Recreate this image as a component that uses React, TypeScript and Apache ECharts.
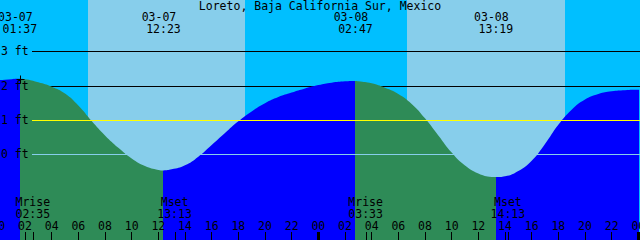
import { useEffect, useRef } from 'react';
import * as echarts from 'echarts';

const TITLE = 'Loreto, Baja California Sur, Mexico';

// Tide curve: hours since 03-07 00:00, height in feet
const TIDE_HOURS = [0, 1, 1.617, 2, 3, 4, 5, 6, 7, 8, 9, 10, 11, 12, 12.383, 13, 14, 15, 16, 17, 18, 19, 20, 21, 22, 23, 24, 25, 26, 26.783, 27, 28, 29, 30, 31, 32, 33, 34, 35, 36, 37, 37.317, 38, 39, 40, 41, 42, 43, 44, 45, 46, 47, 48, 48.125];
const TIDE_FEET = [2.16, 2.19, 2.2, 2.19, 2.1, 1.97, 1.77, 1.42, 0.97, 0.55, 0.19, -0.12, -0.34, -0.455, -0.47, -0.44, -0.32, -0.07, 0.27, 0.62, 0.96, 1.25, 1.49, 1.67, 1.8, 1.92, 2.02, 2.09, 2.13, 2.14, 2.13, 2.07, 1.94, 1.76, 1.47, 1.05, 0.55, 0.05, -0.33, -0.56, -0.66, -0.665, -0.64, -0.49, -0.19, 0.3, 0.86, 1.3, 1.6, 1.76, 1.84, 1.87, 1.88, 1.88];

// High / low tide events
const EXTREME_HOURS = [1.617, 12.383, 26.783, 37.317];
const EXTREME_KIND = ['high', 'low', 'high', 'low'];
const EXTREME_DATES = ['03-07', '03-07', '03-08', '03-08'];
const EXTREME_TIMES = ['01:37', '12:23', '02:47', '13:19'];

// Moon events
const MOON_HOURS = [2.583, 13.217, 27.55, 38.217];
const MOON_NAMES = ['Mrise', 'Mset', 'Mrise', 'Mset'];
const MOON_TIMES = ['02:35', '13:13', '03:33', '14:13'];

// Daylight (sunrise -> sunset), hours
const DAY_START = [6.7, 30.633];
const DAY_END = [18.5, 42.5];

// Levels
const LEVEL_LABELS = [0, 1, 2, 3];
const DEPTH_LINES = [3, 2];
const MEAN_LINE = 1;
const DATUM_LINE = 0;
const MIDNIGHTS = [0, 24, 48];
const MARK_POINT = [1.617, 2.2];

const FONT_FAMILY = '"DejaVu Sans Mono", monospace';
const FONT = '11.5px "DejaVu Sans Mono", monospace';
const NIGHT = '#00BFFF';
const DAY = '#87CEEB';
const FLOOD = '#0000FF';
const EBB = '#2E8B57';

const crisp = (v: number) => Math.round(v) + 0.5;

function text(x: number, y: number, t: string, align = 'center') {
  return {
    type: 'text',
    x,
    y,
    style: { text: t, fill: '#000', font: FONT, lineHeight: 11, textAlign: align, textVerticalAlign: 'middle' },
  };
}

export default function App() {
  const ref = useRef<HTMLDivElement>(null);

  useEffect(() => {
    document.body.style.margin = '0';
    const chart = echarts.init(ref.current!, null, { renderer: 'svg' });

    const tideData = TIDE_HOURS.map((h, i) => [h, TIDE_FEET[i]]);

    const pieces: any[] = [];
    let prev: number | null = null;
    let rising = EXTREME_KIND[0] === 'high';
    EXTREME_HOURS.forEach((h, i) => {
      const p: any = { color: rising ? FLOOD : EBB };
      if (prev !== null) p.gte = prev;
      p.lt = h;
      pieces.push(p);
      prev = h;
      rising = EXTREME_KIND[i] === 'low';
    });
    pieces.push({ gte: prev, color: rising ? FLOOD : EBB });

    const option: any = {
      animation: false,
      backgroundColor: NIGHT,
      title: {
        text: TITLE,
        left: 'center',
        top: 0.8,
        padding: 0,
        textStyle: { fontFamily: FONT_FAMILY, fontSize: 11.5, fontWeight: 'normal', color: '#000', lineHeight: 11 },
      },
      grid: { left: -5 / 3, right: 5 / 3, top: 0, bottom: 0, containLabel: false, outerBoundsMode: 'none' },
      xAxis: {
        type: 'value',
        min: 0,
        max: 48,
        interval: 2,
        z: 10,
        position: 'bottom',
        axisLine: { show: false, onZero: false },
        splitLine: { show: false },
        axisTick: { show: true, inside: true, length: 8, lineStyle: { color: '#000', width: 1 } },
        axisLabel: {
          inside: true,
          margin: 9,
          interval: 0,
          showMinLabel: true,
          showMaxLabel: true,
          hideOverlap: false,
          color: '#000',
          fontFamily: FONT_FAMILY,
          fontSize: 11.5,
          lineHeight: 11,
          formatter: (v: number) => String(v % 24).padStart(2, '0'),
        },
      },
      yAxis: { type: 'value', min: -2.5, max: 4.5, interval: 1, show: false },
      visualMap: { type: 'piecewise', show: false, dimension: 0, seriesIndex: 2, pieces },
      series: [
        {
          type: 'custom',
          z: 1,
          silent: true,
          data: DAY_START.map((s, i) => [s, DAY_END[i]]),
          renderItem: (params: any, api: any) => {
            const x0 = Math.round(api.coord([api.value(0), 0])[0]);
            const x1 = Math.round(api.coord([api.value(1), 0])[0]);
            return { type: 'rect', shape: { x: x0, y: 0, width: x1 - x0, height: 240 }, style: { fill: DAY } };
          },
        },
        {
          type: 'custom',
          z: 1.5,
          silent: true,
          data: DEPTH_LINES.map((v) => [0, v]),
          renderItem: (params: any, api: any) => {
            const y = crisp(api.coord([0, api.value(1)])[1]);
            return { type: 'line', shape: { x1: 32, y1: y, x2: 640, y2: y }, style: { stroke: '#000', lineWidth: 1 } };
          },
        },
        {
          type: 'line',
          z: 2,
          data: tideData,
          smooth: 0.5,
          clip: false,
          symbol: 'none',
          silent: true,
          lineStyle: { width: 0 },
          areaStyle: { origin: 'start', opacity: 1 },
        },
        {
          type: 'custom',
          z: 3,
          silent: true,
          data: [[0, MEAN_LINE], [0, DATUM_LINE]],
          renderItem: (params: any, api: any) => {
            const y = crisp(api.coord([0, api.value(1)])[1]);
            const color = params.dataIndex === 0 ? '#FFFF00' : DAY;
            return { type: 'line', shape: { x1: 32, y1: y, x2: 640, y2: y }, style: { stroke: color, lineWidth: 1 } };
          },
        },
        {
          type: 'custom',
          z: 4,
          silent: true,
          data: LEVEL_LABELS.map((v) => [0, v]),
          renderItem: (params: any, api: any) => {
            const y = api.coord([0, api.value(1)])[1];
            return text(1, y, `${api.value(1)} ft`, 'left');
          },
        },
        {
          type: 'custom',
          z: 5,
          silent: true,
          data: EXTREME_HOURS.map((h, i) => [h, i]),
          renderItem: (params: any, api: any) => {
            const i = params.dataIndex;
            const x = api.coord([api.value(0), 0])[0];
            return {
              type: 'group',
              children: [text(x - 4.5, 17.4, EXTREME_DATES[i]), text(x, 29.4, EXTREME_TIMES[i])],
            };
          },
        },
        {
          type: 'custom',
          z: 5,
          silent: true,
          data: MOON_HOURS.map((h, i) => [h, i]),
          renderItem: (params: any, api: any) => {
            const i = params.dataIndex;
            const x = api.coord([api.value(0), 0])[0];
            const xc = crisp(x);
            return {
              type: 'group',
              children: [
                { type: 'line', shape: { x1: xc, y1: 232, x2: xc, y2: 240 }, style: { stroke: '#000', lineWidth: 1 } },
                text(x, 202.2, MOON_NAMES[i]),
                text(x, 213.5, MOON_TIMES[i]),
              ],
            };
          },
        },
        {
          type: 'custom',
          z: 5,
          silent: true,
          data: MIDNIGHTS.map((h) => [h, 0]),
          renderItem: (params: any, api: any) => {
            const x = api.coord([api.value(0), 0])[0];
            return { type: 'rect', shape: { x: Math.round(x - 1.5), y: 232, width: 3, height: 8 }, style: { fill: '#000' } };
          },
        },
        {
          type: 'custom',
          z: 5,
          silent: true,
          data: [MARK_POINT],
          renderItem: (params: any, api: any) => {
            const p = api.coord([api.value(0), api.value(1)]);
            const x = crisp(p[0]);
            const y = crisp(p[1]);
            return {
              type: 'group',
              children: [
                { type: 'line', shape: { x1: x - 4, y1: y, x2: x + 4, y2: y }, style: { stroke: '#000', lineWidth: 1 } },
                { type: 'line', shape: { x1: x, y1: y - 4, x2: x, y2: y + 4 }, style: { stroke: '#000', lineWidth: 1 } },
              ],
            };
          },
        },
      ],
    };

    chart.setOption(option);
    return () => chart.dispose();
  }, []);

  return <div ref={ref} style={{ position: 'fixed', left: 0, top: 0, width: 640, height: 240 }} />;
}
